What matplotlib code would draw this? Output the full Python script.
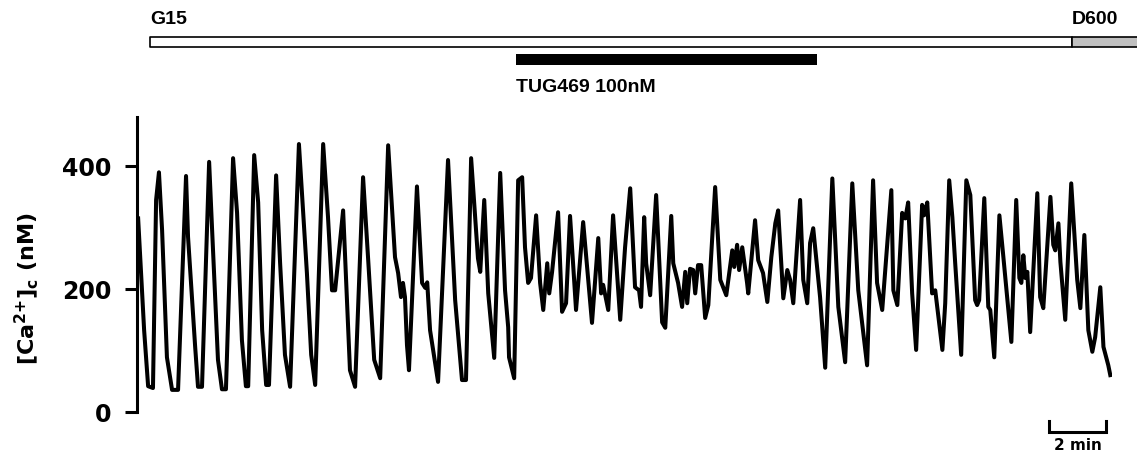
import matplotlib
matplotlib.use("Agg")
import matplotlib.pyplot as plt

# cytosolic Ca2+ trace, time in min, [Ca2+]c in nM
time_min = [0.04, 0.25, 0.39, 0.56, 0.67, 0.77, 0.88, 1.05, 1.23, 1.44,
            1.72, 1.79, 2.04, 2.14, 2.28,
            2.53, 2.63, 2.84, 2.98, 3.12,
            3.37, 3.51, 3.68, 3.82, 3.90,
            4.11, 4.25, 4.39, 4.53, 4.63,
            4.88, 5.02, 5.19, 5.37,
            5.68, 5.96, 6.11, 6.25,
            6.53, 6.70, 6.84, 6.95, 7.23, 7.47, 7.65,
            7.93, 8.11, 8.32, 8.53,
            8.81, 9.05, 9.16, 9.26, 9.33, 9.40, 9.47, 9.54,
            9.82, 10.00, 10.11, 10.18, 10.28, 10.56,
            10.91, 11.16, 11.40, 11.54,
            11.72, 11.96, 12.04, 12.18, 12.32, 12.53,
            12.74, 12.91, 13.02, 13.05, 13.23,
            13.37, 13.51, 13.61, 13.72, 13.82, 14.00, 14.14, 14.25, 14.39, 14.46,
            14.56, 14.77, 14.91, 15.05, 15.19, 15.40, 15.65, 15.96, 16.18, 16.28,
            16.35, 16.53, 16.70, 16.95,
            17.12, 17.30, 17.47, 17.61, 17.68, 17.79, 17.86, 18.00, 18.21, 18.42,
            18.53, 18.74, 18.81, 18.98, 19.12, 19.23, 19.30, 19.40, 19.51, 19.58,
            19.68, 19.79, 19.93, 20.04, 20.28, 20.46, 20.67, 20.88, 20.95, 21.05,
            21.12, 21.23, 21.40,
            21.44, 21.68, 21.79, 21.96, 22.11, 22.25, 22.39, 22.49, 22.67, 22.81,
            22.91, 23.02, 23.26, 23.37, 23.51, 23.61, 23.72, 23.96, 24.14, 24.39,
            24.60, 24.84, 25.09, 25.30, 25.61, 25.82, 25.96, 26.14, 26.46, 26.53,
            26.67, 26.84, 26.95, 27.05, 27.19, 27.33, 27.54, 27.61, 27.72, 27.89,
            28.00, 28.25, 28.35, 28.49, 28.60, 28.70, 28.91, 29.09, 29.23, 29.40,
            29.47, 29.54, 29.72, 29.86, 29.93, 30.07, 30.25, 30.39, 30.67, 30.84,
            30.95, 31.02, 31.09, 31.16, 31.23, 31.33, 31.58, 31.68, 31.79, 32.04,
            32.14, 32.21, 32.32, 32.39, 32.56, 32.77, 32.98, 33.09, 33.23, 33.37,
            33.51, 33.61, 33.79, 33.90, 34.07, 34.14]

ca_nM = [315, 133, 42, 39, 345, 390, 296, 89, 36, 36,
         384, 285, 106, 41, 41,
         407, 301, 85, 37, 37,
         413, 324, 117, 42, 42,
         418, 341, 133, 44, 44,
         385, 242, 93, 41,
         436, 226, 93, 44,
         436, 317, 198, 198, 328, 68, 41,
         382, 247, 85, 55,
         434, 252, 226, 187, 210, 187, 109, 68,
         367, 210, 202, 211, 133, 49,
         410, 182, 52, 52,
         413, 250, 228, 345, 193, 88,
         389, 198, 138, 89, 55,
         377, 382, 268, 210, 218, 320, 210, 166, 242, 193,
         228, 325, 163, 177, 319, 166, 309, 145, 283, 193,
         207, 166, 320, 150,
         268, 364, 203, 198, 171, 317, 242, 190, 353, 146,
         137, 319, 242, 210, 171, 228, 177, 233, 231, 193,
         239, 239, 153, 174, 366, 215, 190, 263, 236, 272,
         231, 268, 210,
         193, 312, 247, 226, 179, 252, 307, 328, 185, 231,
         215, 177, 345, 215, 177, 275, 299, 187, 72, 380,
         171, 81, 372, 198, 76, 377, 210, 166, 361, 198,
         174, 324, 315, 341, 193, 101, 337, 320, 341, 193,
         198, 101, 177, 377, 317, 242, 93, 377, 353, 182,
         174, 182, 348, 171, 166, 89, 320, 252, 114, 345,
         218, 210, 255, 218, 228, 130, 356, 187, 169, 350,
         272, 263, 307, 244, 150, 372, 215, 169, 288, 133,
         98, 122, 203, 106, 76, 60]

yticks = [0, 200, 400]

# perfusion protocol (min)
g15_start = 0.45
d600_start = 32.8
tug_start, tug_end = 13.3, 23.85
scale_bar = (32.0, 34.0)

plt.rcParams['mathtext.default'] = 'bf'

fig = plt.figure(figsize=(11.37, 4.54), dpi=100)
ax = fig.add_axes([137 / 1137, 42 / 454, 975 / 1137, 295 / 454])
ax.plot(time_min, ca_nM, color='black', lw=2.9, solid_joinstyle='round')
ax.set_xlim(0, 34.2)
ax.set_ylim(0, 480)
for s in ['top', 'right', 'bottom']:
    ax.spines[s].set_visible(False)
ax.spines['left'].set_linewidth(2.2)
ax.set_xticks([])
ax.set_yticks(yticks)
ax.tick_params(axis='y', length=8.6, width=2.2, pad=10, labelsize=17)
for lab in ax.get_yticklabels():
    lab.set_fontweight('bold')

# 2 min scale bar
ax.plot([scale_bar[0], scale_bar[0], scale_bar[1], scale_bar[1]], [-15, -33, -33, -15],
        color='black', lw=2.2, clip_on=False, solid_joinstyle='miter')
ax.text(sum(scale_bar) / 2, -42, '2 min', ha='center', va='top', fontsize=11, fontweight='bold')

fig.text(27 / 1137, 1 - 289 / 454, '[Ca$^{2{+}}$]$_{c}$ (nM)', rotation=90, ha='center', va='center',
         fontsize=16, fontweight='bold')

# protocol bars on top, same time scale
top = fig.add_axes([137 / 1137, 354 / 454, 1000 / 1137, 100 / 454])
top.set_xlim(0, 1000 / 28.5)
top.set_ylim(100, 0)
top.axis('off')
top.fill_between([g15_start, d600_start], 37, 47, facecolor='white', edgecolor='black', lw=1.2)
top.fill_between([d600_start, 40], 37, 47, facecolor='#c0c0c0', edgecolor='black', lw=1.2)
top.fill_between([tug_start, tug_end], 54, 65, facecolor='black', edgecolor='none')
lbl = dict(fontsize=14, fontweight='bold', family='Liberation Sans', va='baseline')
top.text(g15_start, 24, 'G15', **lbl)
top.text(d600_start, 24, 'D600', **lbl)
top.text(tug_start, 92, 'TUG469 100nM', **lbl)

fig.savefig('out.png', dpi=100)
